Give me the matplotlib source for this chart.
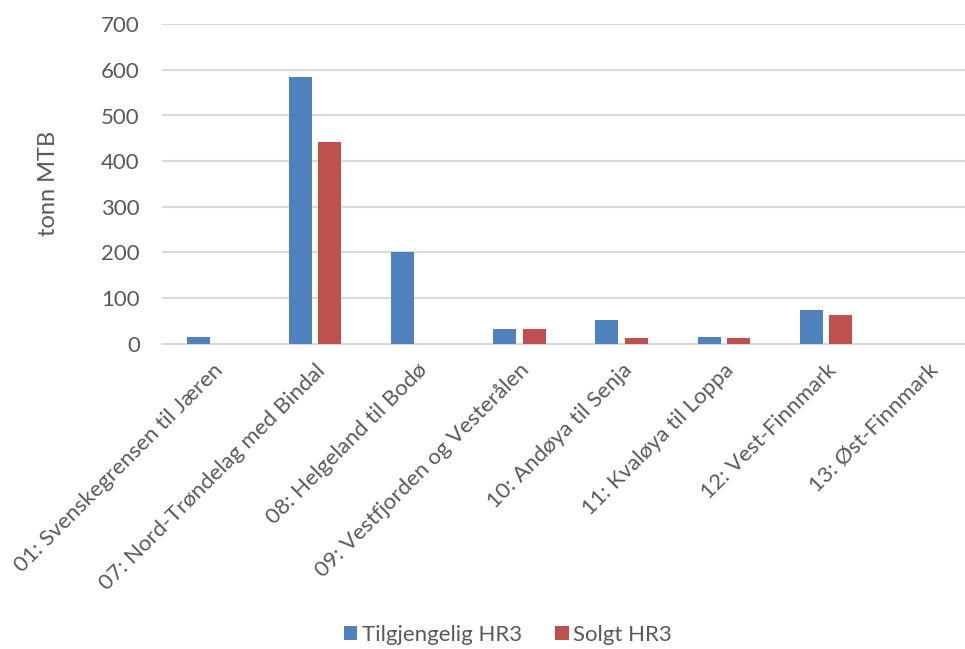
import matplotlib
matplotlib.use("Agg")
import matplotlib.pyplot as plt
import numpy as np

categories = [
    "01: Svenskegrensen til Jæren",
    "07: Nord-Trøndelag med Bindal",
    "08: Helgeland til Bodø",
    "09: Vestfjorden og Vesterålen",
    "10: Andøya til Senja",
    "11: Kvaløya til Loppa",
    "12: Vest-Finnmark",
    "13: Øst-Finnmark",
]
tilgjengelig = [15, 584, 200, 31, 51, 15, 73, 0]
solgt = [0, 441, 0, 31, 11, 13, 63, 0]
series_names = ["Tilgjengelig HR3", "Solgt HR3"]
yticks = [0, 100, 200, 300, 400, 500, 600, 700]

plt.rcParams["font.family"] = ["Lato", "DejaVu Sans"]
text_color = "#595959"
fs = 16

fig = plt.figure(figsize=(9.65, 6.49), dpi=100)
ax = fig.add_axes([162 / 965, 1 - 343.5 / 649, 817 / 965, (343.5 - 24.3) / 649])

x = np.arange(len(categories))
w = 0.225
off = 0.143
ax.bar(x - off, tilgjengelig, width=w, color="#4F81BD", label=series_names[0], zorder=3)
ax.bar(x + off, solgt, width=w, color="#C0504D", label=series_names[1], zorder=3)

ax.set_xlim(-0.5, len(categories) - 0.5)
ax.set_ylim(0, 700)
ax.set_yticks(yticks)
ax.yaxis.grid(True, color="#D9D9D9", linewidth=1.5, zorder=0)
ax.set_axisbelow(True)
for s in ["top", "right", "left"]:
    ax.spines[s].set_visible(False)
ax.spines["bottom"].set_color("#D9D9D9")
ax.spines["bottom"].set_linewidth(1.5)

ax.tick_params(axis="both", length=0, colors=text_color, labelsize=fs)
ax.tick_params(axis="y", pad=16)
ax.set_xticks(x)
ax.set_xticklabels(categories, rotation=45, ha="right", va="top",
                   rotation_mode="anchor", color=text_color, fontsize=fs)
ax.tick_params(axis="x", pad=12)

ax.set_ylabel("tonn MTB", fontsize=17, color=text_color, labelpad=30)

leg = fig.legend(loc="center", bbox_to_anchor=(508 / 965, 1 - 635 / 649), ncol=2,
                 frameon=False, fontsize=fs, handlelength=0.6, handleheight=0.6,
                 handletextpad=0.2, columnspacing=1.5)
for t in leg.get_texts():
    t.set_color(text_color)

fig.savefig("out.png", dpi=100)
